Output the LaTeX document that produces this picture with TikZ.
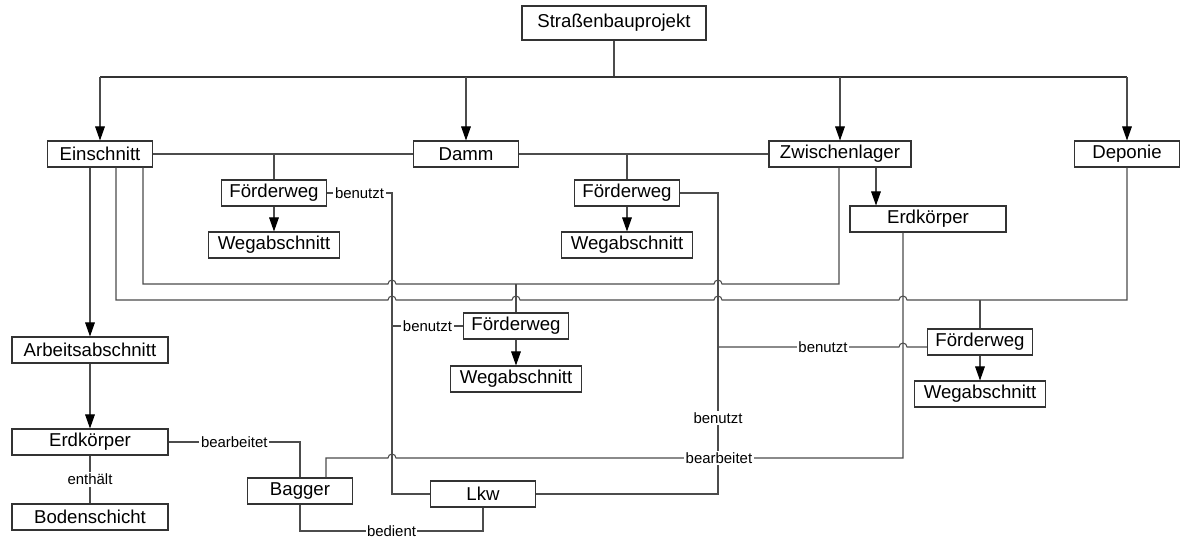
\documentclass[tikz,border=0pt]{standalone}
\usepackage{fontspec}
\setmainfont{Liberation Sans}
\usetikzlibrary{arrows.meta,calc}

% small bridge where a line jumps over another one
\newcommand{\hopat}[2]{-- (#1-4,#2) arc[start angle=180,end angle=0,radius=2.27pt]}

\begin{document}
\begin{tikzpicture}[x=0.02cm,y=-0.02cm,
  box/.style={draw=black!80,line width=0.6pt,fill=white,minimum height=0.52cm,
    minimum width=2.1cm,inner sep=0pt,font=\fontsize{10.6}{12}\selectfont},
  wide/.style={box,minimum width=3.12cm},
  weg/.style={box,minimum width=2.62cm},
  line/.style={draw=black!70,line width=0.6pt},
  arr/.style={line,-{Triangle[length=8pt,width=5.5pt,color=black]}},
  lbl/.style={fill=white,text=black,inner sep=1pt,font=\fontsize{8.5}{10}\selectfont}]

\useasboundingbox (0,0) rectangle (1181,539);

% boxes
\node[box,minimum width=3.68cm,minimum height=0.68cm,line width=0.8pt] (projekt) at (614,23) {Straßenbauprojekt};
\node[box] (einschnitt) at (100,154) {Einschnitt};
\node[box] (damm) at (466,154) {Damm};
\node[box,minimum width=2.84cm] (zwl) at (840,154) {Zwischenlager};
\node[box] (deponie) at (1127,154) {Deponie};

\node[box] (fw1) at (274,193) {Förderweg};
\node[weg] (weg1) at (274,245) {Wegabschnitt};
\node[box] (fw2) at (627,193) {Förderweg};
\node[weg] (weg2) at (627,245) {Wegabschnitt};
\node[wide] (erd2) at (928,219) {Erdkörper};

\node[box] (fw3) at (516,326) {Förderweg};
\node[weg] (weg3) at (516,379) {Wegabschnitt};
\node[box] (fw4) at (980,342) {Förderweg};
\node[weg] (weg4) at (980,394) {Wegabschnitt};

\node[wide] (arb) at (90,350) {Arbeitsabschnitt};
\node[wide] (erd1) at (90,442) {Erdkörper};
\node[wide] (boden) at (90,517) {Bodenschicht};
\node[box] (bagger) at (300,491) {Bagger};
\node[box] (lkw) at (483,494) {Lkw};

% top level
\coordinate (bus) at (614,77);
\draw[line] (projekt) -- (bus);
\draw[line,line width=1pt,draw=black!80] (einschnitt |- bus) -- (deponie |- bus);
\foreach \n in {einschnitt,damm,zwl,deponie}
  \draw[arr] (\n |- bus) -- (\n);

\draw[line] (einschnitt) -- (damm) -- (zwl);
\draw[line] (fw1 |- einschnitt) -- (fw1);
\draw[line] (fw2 |- damm) -- (fw2);

\foreach \a/\b in {fw1/weg1,fw2/weg2,fw3/weg3,fw4/weg4,arb/erd1}
  \draw[arr] (\a) -- (\b);
\draw[arr] (einschnitt.south -| arb) -- (arb);
\draw[arr] (zwl.south -| 876,0) -- (erd2.north -| 876,0);

% Einschnitt -- Zwischenlager and Einschnitt -- Deponie
\draw[line] ($(einschnitt.south)+(43,0)$) -- (143,284) \hopat{392}{284} \hopat{718}{284}
  -- (839,284) -- (zwl.south -| 839,0);
\draw[line] (fw3.north |- 0,284) -- (fw3);
\draw[line] ($(einschnitt.south)+(16,0)$) -- (116,300) \hopat{392}{300} \hopat{516}{300}
  \hopat{718}{300} \hopat{903}{300} -- (1127,300) -- (deponie);
\draw[line] (fw4.north |- 0,300) -- (fw4);

% Lkw benutzt Foerderweg
\draw[line] (fw1.east) -- node[lbl]{benutzt} (392,193) |- (lkw.west);
\draw[line] (392,326) -- node[lbl]{benutzt} (fw3.west);
\draw[line] (fw2.east) -- (718,193) -- node[lbl,pos=0.747]{benutzt} (718,494) -- (lkw.east);
\draw[line] (718,347) -- node[lbl,pos=0.58]{benutzt} (899,347) arc[start angle=180,end angle=0,radius=2.27pt]
  -- (fw4.west |- 0,347);

% Bagger bearbeitet Erdkoerper
\draw[line] (erd1.east) -- node[lbl]{bearbeitet} (300,442) -- (bagger.north);
\draw[line] ($(bagger.north)+(26,0)$) -- (326,458) \hopat{392}{458}
  -- node[lbl,pos=0.637]{bearbeitet} (903,458) -- (erd2.south -| 903,0);
\draw[line] (erd1) -- node[lbl]{enthält} (boden);

% Bagger bedient Lkw
\draw[line] (bagger.south) -- (300,531) -- node[lbl,inner sep=0.5pt]{bedient} (483,531) -- (lkw.south);

\end{tikzpicture}
\end{document}
